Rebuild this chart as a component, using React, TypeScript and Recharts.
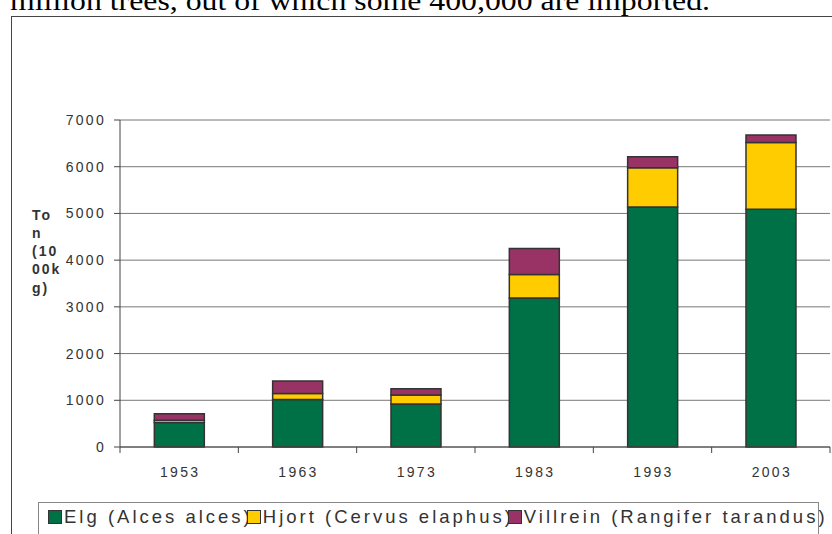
import React from "react";
import { BarChart, Bar, XAxis, YAxis, CartesianGrid } from "recharts";

const years = ["1953", "1963", "1973", "1983", "1993", "2003"];
const elg = [525, 1015, 920, 3190, 5140, 5090];
const hjort = [45, 130, 195, 500, 840, 1430];
const villrein = [140, 270, 130, 560, 235, 160];
const yTicks = [0, 1000, 2000, 3000, 4000, 5000, 6000, 7000];
const seriesNames = ["Elg (Alces alces)", "Hjort (Cervus elaphus)", "Villrein (Rangifer tarandus)"];
const seriesColors = ["#007046", "#FFCC00", "#993366"];
const yLabelLines = ["To", "n", "(10", "00k", "g)"];
const topText = "million trees, out of which some 400,000 are imported.";

const data = years.map((y, i) => ({ year: y, elg: elg[i], hjort: hjort[i], villrein: villrein[i] }));
const keys = ["elg", "hjort", "villrein"];

const FONT = "'Liberation Sans', Arial, sans-serif";

const YTick = (props: any) => {
  const { x, y, payload } = props;
  return (
    <text x={x - 8} y={y + 5} textAnchor="end" fontFamily={FONT} fontSize={14} fill="#333" style={{ letterSpacing: 2.3 }}>
      {payload.value}
    </text>
  );
};

const XTick = (props: any) => {
  const { x, y, payload, index } = props;
  const off = payload.offset || 0;
  return (
    <g>
      <line x1={x - off} x2={x - off} y1={y} y2={y + 6} stroke="#444" strokeWidth={1} />
      {index === years.length - 1 && (
        <line x1={x + off} x2={x + off} y1={y} y2={y + 6} stroke="#444" strokeWidth={1} />
      )}
      <text x={x + 1} y={y + 30} textAnchor="middle" fontFamily={FONT} fontSize={14} fill="#333" style={{ letterSpacing: 2.3 }}>
        {payload.value}
      </text>
    </g>
  );
};

export default function App() {
  return (
    <div style={{ position: "absolute", left: 0, top: 0, width: 832, height: 534, overflow: "hidden", background: "#fff" }}>
      <svg style={{ position: "absolute", left: 0, top: 0 }} width={832} height={40}>
        <text x={10} y={10} fontFamily="'Liberation Serif', 'Times New Roman', serif" fontSize={27} fill="#000" textLength={700} lengthAdjust="spacingAndGlyphs">
          {topText}
        </text>
      </svg>
      <div style={{ position: "absolute", left: 11, top: 16, width: 900, height: 600, borderLeft: "1.5px solid #444", borderTop: "1.5px solid #444" }} />
      <svg style={{ position: "absolute", left: 0, top: 0 }} width={120} height={534}>
        {yLabelLines.map((l, i) => (
          <text key={i} x={32} y={219.5 + i * 18.3} fontFamily={FONT} fontSize={14} fontWeight="bold" fill="#333" style={{ letterSpacing: 2 }}>
            {l}
          </text>
        ))}
      </svg>
      <div style={{ position: "absolute", left: 0, top: 0 }}>
        <BarChart width={832} height={534} data={data} margin={{ top: 120, right: 2, left: 0, bottom: 57 }} barCategoryGap="29%">
          <CartesianGrid vertical={false} stroke="#777" strokeWidth={1} yAxisId="left" />
          <XAxis dataKey="year" height={30} axisLine={{ stroke: "#444", strokeWidth: 1 }} tickLine={false} tickSize={0} tickMargin={0} tick={<XTick />} interval={0} />
          <YAxis yAxisId="left" width={120} domain={[0, 7000]} ticks={yTicks} tickSize={6} tickMargin={0} axisLine={{ stroke: "#444", strokeWidth: 1 }} tickLine={{ stroke: "#444", strokeWidth: 1 }} tick={<YTick />} interval={0} />
          <YAxis yAxisId="right" orientation="right" width={0} tick={false} tickLine={false} axisLine={{ stroke: "#999", strokeWidth: 1.5 }} />
          {keys.map((k, i) => (
            <Bar key={k} yAxisId="left" dataKey={k} name={seriesNames[i]} stackId="a" fill={seriesColors[i]} stroke="#333" strokeWidth={1.5} isAnimationActive={false} />
          ))}
        </BarChart>
      </div>
      <div style={{ position: "absolute", left: 38, top: 502, width: 779, height: 60, border: "1px solid #888", background: "#fff", whiteSpace: "nowrap", overflow: "visible" }}>
        <div style={{ position: "absolute", left: 9, top: 3, display: "flex", alignItems: "center", fontFamily: FONT, fontSize: 18.5, color: "#333", letterSpacing: 3.0 }}>
          {seriesNames.map((n, i) => (
            <span key={i} style={{ display: "inline-flex", alignItems: "center", marginLeft: i === 0 ? 0 : -6 }}>
              <span style={{ display: "inline-block", width: 12, height: 12, background: seriesColors[i], border: "1px solid #333", marginRight: 2 }} />
              <span>{n}</span>
            </span>
          ))}
        </div>
      </div>
    </div>
  );
}
